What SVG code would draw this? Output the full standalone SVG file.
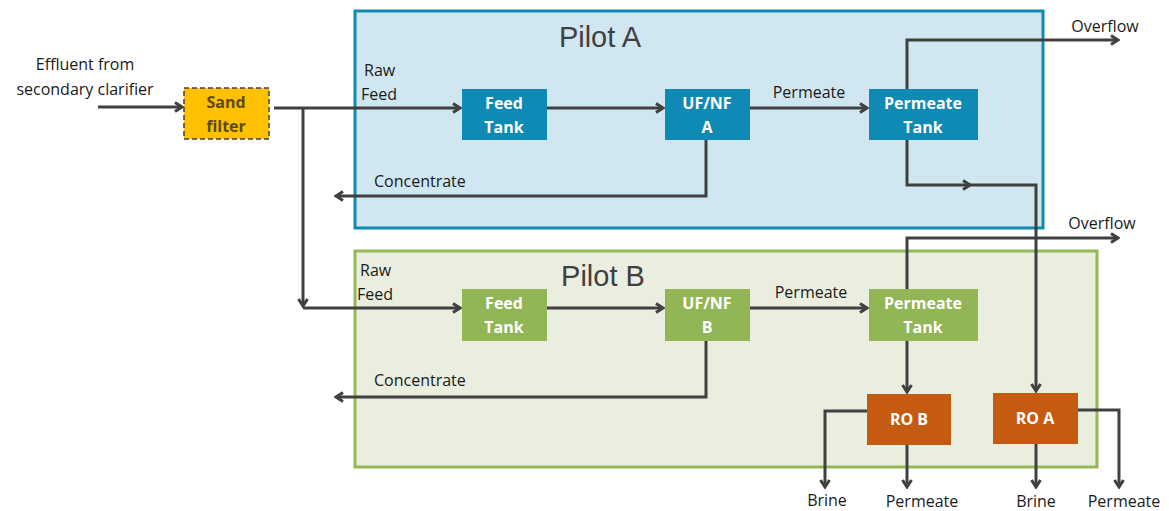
<svg xmlns="http://www.w3.org/2000/svg" width="1169" height="511" viewBox="0 0 1169 511">
<style>
.t{font-family:"Open Sans","Liberation Sans",sans-serif;font-size:16px;fill:#1a1a1a}
.nt{font-family:"Open Sans","Liberation Sans",sans-serif;font-size:16px;font-weight:bold;fill:#ffffff;text-anchor:middle}
.title{font-family:"Liberation Sans",Arial,sans-serif;font-size:29px;fill:#404040;text-anchor:middle}
.c{fill:none;stroke:#404040;stroke-width:3}
.a{marker-end:url(#arr)}
</style>
<defs>
<marker id="arr" viewBox="0 0 12 12" refX="10" refY="6" markerWidth="12" markerHeight="12" markerUnits="userSpaceOnUse" orient="auto">
<polyline points="3,1.5 10,6 3,10.5" fill="none" stroke="#404040" stroke-width="3"/>
</marker>
</defs>
<rect width="1169" height="511" fill="#ffffff"/>
<g id="pilotA">
<rect x="355" y="11" width="688" height="217" fill="#d0e6f0" stroke="#0e8ab5" stroke-width="3"/>
<text class="title" x="600" y="47">Pilot A</text>
</g>
<g id="pilotB">
<rect x="355" y="251" width="742" height="216" fill="#e9eedf" stroke="#94b854" stroke-width="3"/>
<text class="title" x="603" y="286">Pilot B</text>
</g>
<g id="connectors">
<path class="c a" d="M98,107 H182"/>
<path class="c a" d="M274,108 H460"/>
<path class="c a" d="M303,108 V306"/>
<path class="c a" d="M303,308 H460"/>
<path class="c a" d="M547,108 H663"/>
<path class="c a" d="M750,108 H867"/>
<path class="c a" d="M706,140 V196 H336"/>
<path class="c a" d="M907,89 V40 H1118"/>
<path class="c a" d="M907,140 V185 H970"/>
<path class="c a" d="M968,185 H1036 V391"/>
<path class="c a" d="M547,308 H663"/>
<path class="c a" d="M750,308 H867"/>
<path class="c a" d="M706,341 V397 H336"/>
<path class="c a" d="M907,289 V238 H1118"/>
<path class="c a" d="M907,341 V392"/>
<path class="c a" d="M867,411 H825 V487"/>
<path class="c a" d="M907,445 V487"/>
<path class="c a" d="M1036,444 V487"/>
<path class="c a" d="M1078,410 H1119 V487"/>
</g>
<g id="labels">
<text class="t" x="85" y="70" text-anchor="middle">Effluent from</text>
<text class="t" x="85" y="95" text-anchor="middle">secondary clarifier</text>
<text class="t" x="364" y="76">Raw</text>
<text class="t" x="361" y="100">Feed</text>
<text class="t" x="360" y="276">Raw</text>
<text class="t" x="357" y="300">Feed</text>
<text class="t" x="809" y="98" text-anchor="middle">Permeate</text>
<text class="t" x="811" y="298" text-anchor="middle">Permeate</text>
<text class="t" x="374" y="187">Concentrate</text>
<text class="t" x="374" y="386">Concentrate</text>
<text class="t" x="1105" y="32" text-anchor="middle">Overflow</text>
<text class="t" x="1102" y="229" text-anchor="middle">Overflow</text>
<text class="t" x="827" y="506" text-anchor="middle">Brine</text>
<text class="t" x="922" y="507" text-anchor="middle">Permeate</text>
<text class="t" x="1036" y="507" text-anchor="middle">Brine</text>
<text class="t" x="1124" y="507" text-anchor="middle">Permeate</text>
</g>
<g id="sandFilter">
<rect x="184" y="88" width="85" height="51" fill="#ffc000" stroke="#404040" stroke-width="1.5" stroke-dasharray="5,3"/>
<text class="nt" x="226" y="108" style="fill:#5c4a12">Sand</text>
<text class="nt" x="226" y="132" style="fill:#5c4a12">filter</text>
</g>
<g id="feedTankA">
<rect x="462" y="89" width="85" height="51" fill="#0e8ab5"/>
<text class="nt" x="504" y="109">Feed</text>
<text class="nt" x="504" y="133">Tank</text>
</g>
<g id="ufnfA">
<rect x="665" y="89" width="85" height="51" fill="#0e8ab5"/>
<text class="nt" x="707" y="109">UF/NF</text>
<text class="nt" x="707" y="133">A</text>
</g>
<g id="permTankA">
<rect x="869" y="89" width="109" height="51" fill="#0e8ab5"/>
<text class="nt" x="923" y="109">Permeate</text>
<text class="nt" x="923" y="133">Tank</text>
</g>
<g id="feedTankB">
<rect x="462" y="289" width="85" height="52" fill="#92b656"/>
<text class="nt" x="504" y="309">Feed</text>
<text class="nt" x="504" y="333">Tank</text>
</g>
<g id="ufnfB">
<rect x="665" y="289" width="85" height="52" fill="#92b656"/>
<text class="nt" x="707" y="309">UF/NF</text>
<text class="nt" x="707" y="333">B</text>
</g>
<g id="permTankB">
<rect x="869" y="289" width="109" height="52" fill="#92b656"/>
<text class="nt" x="923" y="309">Permeate</text>
<text class="nt" x="923" y="333">Tank</text>
</g>
<g id="roB">
<rect x="867" y="394" width="84" height="51" fill="#c55a11"/>
<text class="nt" x="909" y="425">RO B</text>
</g>
<g id="roA">
<rect x="993" y="393" width="85" height="51" fill="#c55a11"/>
<text class="nt" x="1035" y="424">RO A</text>
</g>
</svg>
